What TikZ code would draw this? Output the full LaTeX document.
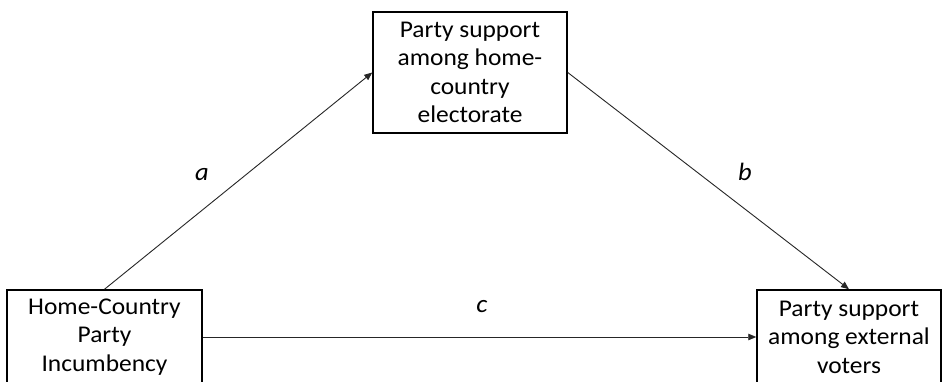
\documentclass[tikz,border=0pt]{standalone}
\usepackage{fontspec}
\setmainfont[FakeStretch=1.06]{Carlito}
\usetikzlibrary{arrows.meta}
\tikzset{
  box/.style={draw=black, line width=1.5pt, inner sep=0pt, align=center,
    font=\fontsize{24}{28.5}\selectfont},
  conn/.style={draw=black!85, line width=0.9pt, -{Triangle[length=8pt,width=6.5pt]}},
  lab/.style={font=\fontsize{25}{28}\selectfont\itshape, inner sep=0pt}
}
\begin{document}
\begin{tikzpicture}[x=1pt,y=1pt]
\useasboundingbox (0,0) rectangle (945,382);
\clip (0,0) rectangle (945,382);
\fill[white] (0,0) rectangle (945,382);
\node[box, minimum width=194pt, minimum height=121pt] (med) at (470,309.5)
  {Party support\\among home-\\country\\electorate};
\node[box, minimum width=195pt, minimum height=94pt] (inc) at (104.5,45)
  {Home-Country\\Party\\Incumbency};
\node[box, minimum width=184pt, minimum height=94pt] (ext) at (849,45)
  {Party support\\among external\\voters};
\draw[conn] (inc.north) -- (med.west);
\draw[conn] (med.east) -- (ext.north);
\draw[conn] (inc.east) -- (ext.west);
\node[lab] (la) at (202,207) {a};
\node[lab] (lb) at (745,210) {b};
\node[lab] (lc) at (482,75) {c};
\end{tikzpicture}
\end{document}
